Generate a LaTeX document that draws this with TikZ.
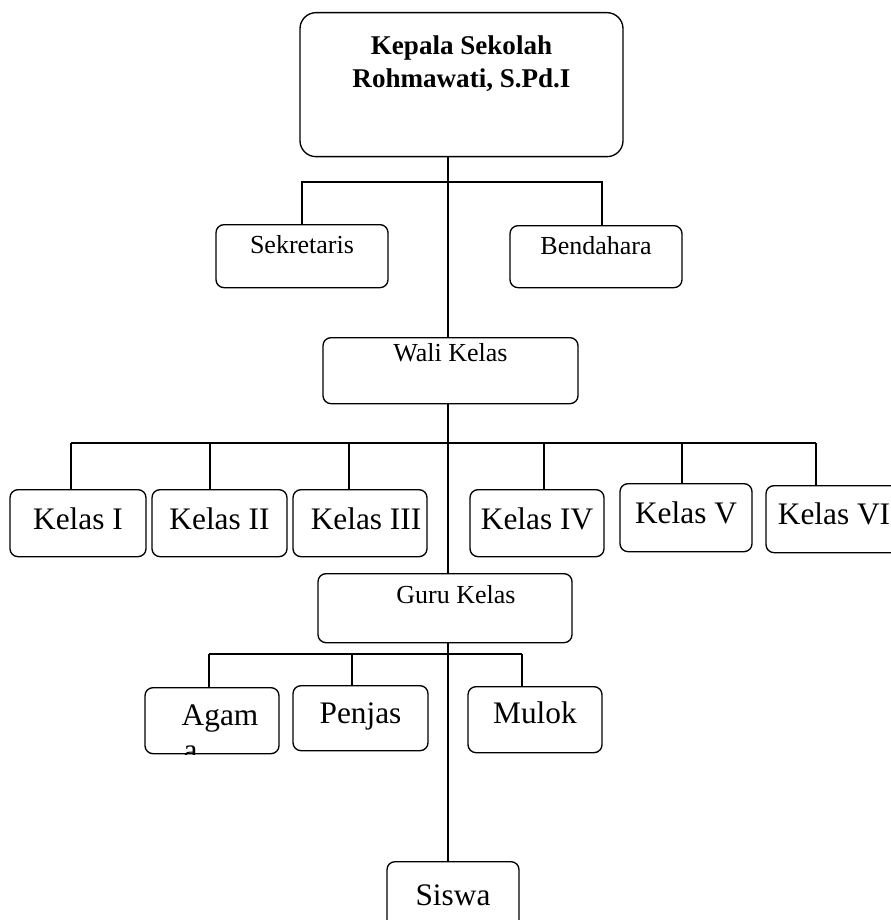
\documentclass[tikz,border=0pt]{standalone}
\usepackage{fontspec}
\setmainfont{Liberation Serif}

\tikzset{every picture/.style={line width=1pt}}
\tikzset{
  orgbox/.style={draw, rounded corners=6pt, inner xsep=0pt, inner ysep=0pt, anchor=north},
  midtext/.style={font=\fontsize{19.5}{23}\selectfont},
  bigtext/.style={font=\fontsize{23.5}{28}\selectfont}
}

\begin{document}
\begin{tikzpicture}[x=0.75pt,y=0.75pt,yscale=-1,xscale=1]
	\clip (0,0) rectangle (891,920);
	
	%Shape: Rounded Rect [kepala]
	\node[orgbox, rounded corners=12pt, minimum width=242.25pt, text height=31.5pt, text depth=76.5pt, font=\fontsize{20.3}{24.5}\selectfont\bfseries] (kepala) at (461.5,12) {\begin{tabular}[t]{@{}c@{}}Kepala Sekolah\\Rohmawati, S.Pd.I\end{tabular}};
	%Shape: Rounded Rect [sekretaris, bendahara]
	\node[orgbox, midtext, minimum width=129pt, text height=21.75pt, text depth=25.5pt] (sek) at (302,224) {Sekretaris};
	\node[orgbox, midtext, minimum width=129pt, text height=21.75pt, text depth=24.75pt] (ben) at (596,225) {Bendahara};
	%Shape: Rounded Rect [wali kelas]
	\node[orgbox, midtext, minimum width=191.25pt, text height=18pt, text depth=31.5pt] (wali) at (450.5,337) {Wali Kelas};
	
	%Shape: Rounded Rect [kelas I - VI]
	\node[orgbox, bigtext, minimum width=102pt, text height=30pt, text depth=20.25pt] (k1) at (78,489) {Kelas I};
	\node[orgbox, bigtext, minimum width=101.25pt, text height=30pt, text depth=20.25pt] (k2) at (219.5,489) {Kelas II};
	\node[orgbox, bigtext, minimum width=100.5pt, text height=30pt, text depth=20.25pt] (k3) at (360,489) {\hspace{9pt}Kelas III};
	\node[orgbox, bigtext, minimum width=100.5pt, text height=30pt, text depth=20.25pt] (k4) at (537,489) {Kelas IV};
	\node[orgbox, bigtext, minimum width=99pt, text height=30pt, text depth=21pt] (k5) at (686,483) {Kelas V};
	\node[orgbox, bigtext, minimum width=102pt, text height=29.25pt, text depth=21pt] (k6) at (834,485) {Kelas VI\hspace{12pt}};
	
	%Shape: Rounded Rect [guru kelas]
	\node[orgbox, midtext, minimum width=190.5pt, text height=22.5pt, text depth=29.25pt] (guru) at (445,573) {\hspace{16.5pt}Guru Kelas};
	%Shape: Rounded Rect [agama, penjas, mulok]
	\node[orgbox, bigtext, minimum width=100.5pt, text height=28.5pt, text depth=21pt] (agama) at (212,687) {\hspace{12pt}Agam};
	\node[orgbox, bigtext, minimum width=101.25pt, text height=28.5pt, text depth=20.25pt] (penjas) at (360.5,685) {Penjas};
	\node[orgbox, bigtext, minimum width=100.5pt, text height=27.75pt, text depth=21.75pt] (mulok) at (535,686) {Mulok};
	%Shape: Rounded Rect [siswa]
	\node[orgbox, bigtext, minimum width=99pt, text height=33pt, text depth=22.5pt] (siswa) at (453,861) {Siswa};
	
	% Text Node [rest of Agama, cut by its box]
	\begin{scope}
		\clip[rounded corners=6pt] (agama.north west) rectangle (agama.south east);
		\node[bigtext, anchor=base west, inner sep=0pt] (agamatail) at (183,760) {a};
	\end{scope}
	
	%Straight Lines [trunk]
	\coordinate (trunk) at (448,0);
	\draw (kepala.south -| trunk) -- (wali.north -| trunk);
	\draw (wali.south -| trunk) -- (guru.north -| trunk);
	\draw (guru.south -| trunk) -- (siswa.north -| trunk);
	
	%Straight Lines [sekretaris - bendahara]
	\draw (sek.north) -- ++(0,-42) -| ([xshift=4.5pt]ben.north);
	
	%Straight Lines [kelas bar]
	\coordinate (kbarl) at (71,443);
	\coordinate (kbarr) at (816,443);
	\draw (kbarl) -- (kbarr);
	\foreach \k/\x in {k1/71,k2/210,k3/349,k4/544,k5/682,k6/816}
		\draw (\k.north -| \x,0) -- (kbarl -| \x,0);
	
	%Straight Lines [guru bar]
	\coordinate (gbarl) at (209,654);
	\coordinate (gbarr) at (522,654);
	\draw (gbarl) -- (gbarr);
	\foreach \k/\x in {agama/209,penjas/352,mulok/522}
		\draw (\k.north -| \x,0) -- (gbarl -| \x,0);
	
\end{tikzpicture}
\end{document}
